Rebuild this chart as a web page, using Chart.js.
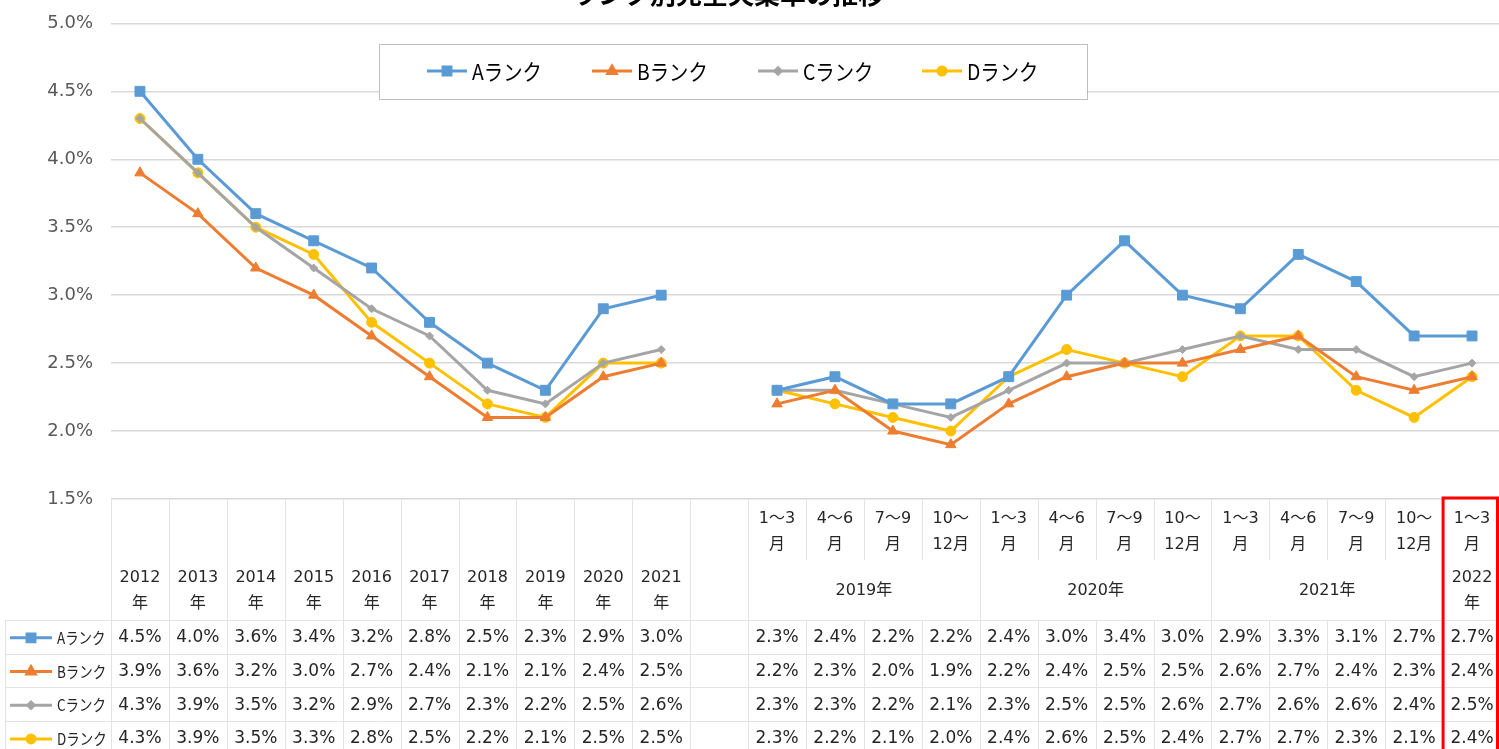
<!DOCTYPE html>
<html>
<head>
<meta charset="utf-8">
<script src="https://cdn.jsdelivr.net/npm/chart.js@4"></script>
<style>
  html, body { margin: 0; padding: 0; background: #ffffff; overflow: hidden; }
  #wrap { width: 1509px; height: 749px; }
</style>
</head>
<body>
<div id="wrap"><canvas id="myChart"></canvas></div>
<script>
// カテゴリ
const yearCats = ['2012年', '2013年', '2014年', '2015年', '2016年', '2017年', '2018年', '2019年', '2020年', '2021年'];
const quarterCats = ['1～3月', '4～6月', '7～9月', '10～12月', '1～3月', '4～6月', '7～9月', '10～12月', '1～3月', '4～6月', '7～9月', '10～12月', '1～3月'];
const quarterGroups = ['2019年', '2020年', '2021年', '2022年'];
const seriesNames = ['Aランク', 'Bランク', 'Cランク', 'Dランク'];

// 年次データ
const yearA = [4.5, 4.0, 3.6, 3.4, 3.2, 2.8, 2.5, 2.3, 2.9, 3.0];
const yearB = [3.9, 3.6, 3.2, 3.0, 2.7, 2.4, 2.1, 2.1, 2.4, 2.5];
const yearC = [4.3, 3.9, 3.5, 3.2, 2.9, 2.7, 2.3, 2.2, 2.5, 2.6];
const yearD = [4.3, 3.9, 3.5, 3.3, 2.8, 2.5, 2.2, 2.1, 2.5, 2.5];

// 四半期データ
const quarterA = [2.3, 2.4, 2.2, 2.2, 2.4, 3.0, 3.4, 3.0, 2.9, 3.3, 3.1, 2.7, 2.7];
const quarterB = [2.2, 2.3, 2.0, 1.9, 2.2, 2.4, 2.5, 2.5, 2.6, 2.7, 2.4, 2.3, 2.4];
const quarterC = [2.3, 2.3, 2.2, 2.1, 2.3, 2.5, 2.5, 2.6, 2.7, 2.6, 2.6, 2.4, 2.5];
const quarterD = [2.3, 2.2, 2.1, 2.0, 2.4, 2.6, 2.5, 2.4, 2.7, 2.7, 2.3, 2.1, 2.4];

const yTicks = [1.5, 2.0, 2.5, 3.0, 3.5, 4.0, 4.5, 5.0];

const titleText = 'ランク別完全失業率の推移';

// 四半期ラベルにグループ（年）を付ける
const quarterLabels = quarterCats.map((q, i) => quarterGroups[Math.floor(i / 4)] + ' ' + q);
const labels = [...yearCats, '', ...quarterLabels];

function joinData(y, q) {
    return [...y, null, ...q];
}

const colors = ['#5b9bd5', '#ed7d31', '#a5a5a5', '#ffc000'];
const pointStyles = ['rect', 'triangle', 'rectRot', 'circle'];
const pointRadii = [7, 6, 4, 5];
const allData = [joinData(yearA, quarterA), joinData(yearB, quarterB), joinData(yearC, quarterC), joinData(yearD, quarterD)];

const numFont = "'DejaVu Sans', 'Noto Sans CJK JP', sans-serif";
const jpFont = "'Noto Sans CJK JP', sans-serif";
const pageRight = 1499; // 表示されるウィンドウの右端

function drawMarker(ctx, i, x, y) {
    Chart.helpers.drawPoint(ctx, {
        pointStyle: pointStyles[i],
        radius: pointRadii[i] * 0.8,
        rotation: 0,
        borderWidth: 1
    }, x, y);
}

// 横に詰めた文字（Excelの凡例っぽく）
function condensedText(ctx, text, x, y, sx) {
    ctx.save();
    ctx.translate(x, y);
    ctx.scale(sx, 1);
    ctx.fillText(text, 0, 0);
    ctx.restore();
}

// タイトル（上が切れている）
const titlePlugin = {
    id: 'titlePlugin',
    afterDraw(chart) {
        const ctx = chart.ctx;
        ctx.save();
        ctx.font = "bold 26px " + jpFont;
        ctx.fillStyle = '#000000';
        ctx.textAlign = 'center';
        ctx.textBaseline = 'alphabetic';
        ctx.fillText(titleText, 728, 4);
        ctx.restore();
    }
};

// 凡例ボックス
const legendPlugin = {
    id: 'legendPlugin',
    afterDraw(chart) {
        const ctx = chart.ctx;
        ctx.save();
        ctx.fillStyle = '#ffffff';
        ctx.fillRect(379, 44, 708, 55);
        ctx.strokeStyle = '#7f7f7f';
        ctx.lineWidth = 1;
        ctx.setLineDash([1, 1]);
        ctx.strokeRect(379.5, 44.5, 708, 55);
        ctx.setLineDash([]);
        const starts = [427, 592, 758, 922];
        seriesNames.forEach((name, i) => {
            const x = starts[i];
            const y = 71;
            ctx.strokeStyle = colors[i];
            ctx.lineWidth = 3;
            ctx.beginPath();
            ctx.moveTo(x, y);
            ctx.lineTo(x + 40, y);
            ctx.stroke();
            ctx.fillStyle = colors[i];
            ctx.strokeStyle = colors[i];
            drawMarker(ctx, i, x + 20, y);
            ctx.fillStyle = '#000000';
            ctx.font = "22px " + jpFont;
            ctx.textAlign = 'left';
            ctx.textBaseline = 'middle';
            condensedText(ctx, name, x + 45, y + 1, 0.88);
        });
        ctx.restore();
    }
};

function wrapLabel(label) {
    if (label.startsWith('10～')) return ['10～', '12月'];
    return [label.slice(0, -1), label.slice(-1)];
}

// データテーブル
const tablePlugin = {
    id: 'tablePlugin',
    afterDraw(chart) {
        const ctx = chart.ctx;
        const xs = chart.scales.x;
        const top = chart.chartArea.bottom;
        const bottom = 749;
        const colW = xs.getPixelForValue(1) - xs.getPixelForValue(0);
        const rowTop = 620;
        const rowH = 33.7;
        const nCols = labels.length;
        const qStart = yearCats.length + 1;
        ctx.save();

        // 罫線
        ctx.strokeStyle = '#e3e3e3';
        ctx.lineWidth = 1;
        for (let i = 0; i <= nCols; i++) {
            const x = Math.round(xs.getPixelForValue(i) - colW / 2) + 0.5;
            const q = i - qStart;
            ctx.beginPath();
            if (q > 0 && q % 4 !== 0 && i < nCols) {
                ctx.moveTo(x, top);
                ctx.lineTo(x, 560);
                ctx.moveTo(x, rowTop);
                ctx.lineTo(x, bottom);
            } else {
                ctx.moveTo(x, top);
                ctx.lineTo(x, bottom);
            }
            ctx.stroke();
        }
        ctx.beginPath();
        ctx.moveTo(5.5, rowTop);
        ctx.lineTo(5.5, bottom);
        for (let r = 0; r < 4; r++) {
            const y = Math.round(rowTop + r * rowH) + 0.5;
            ctx.moveTo(5, y);
            ctx.lineTo(pageRight, y);
        }
        ctx.stroke();

        // 見出し
        ctx.fillStyle = '#262626';
        ctx.font = "16px " + numFont;
        ctx.textAlign = 'center';
        ctx.textBaseline = 'middle';
        yearCats.forEach((c, i) => {
            const x = xs.getPixelForValue(i);
            const lines = wrapLabel(c);
            ctx.fillText(lines[0], x, 578);
            ctx.fillText(lines[1], x, 604);
        });
        quarterCats.forEach((c, j) => {
            const x = xs.getPixelForValue(qStart + j);
            const lines = wrapLabel(c);
            ctx.fillText(lines[0], x, 519);
            ctx.fillText(lines[1], x, 545);
        });
        quarterGroups.forEach((g, k) => {
            const first = qStart + k * 4;
            const last = Math.min(first + 3, nCols - 1);
            if (first === last) {
                const lines = wrapLabel(g);
                const x = xs.getPixelForValue(first);
                ctx.fillText(lines[0], x, 578);
                ctx.fillText(lines[1], x, 604);
            } else {
                const x = (xs.getPixelForValue(first) + xs.getPixelForValue(last)) / 2;
                ctx.fillText(g, x, 591);
            }
        });

        // 系列の行
        allData.forEach((vals, r) => {
            const y = rowTop + r * rowH + rowH / 2 + 1;
            ctx.strokeStyle = colors[r];
            ctx.lineWidth = 3;
            ctx.beginPath();
            ctx.moveTo(10, y);
            ctx.lineTo(52, y);
            ctx.stroke();
            ctx.fillStyle = colors[r];
            ctx.strokeStyle = colors[r];
            drawMarker(ctx, r, 31, y);
            ctx.fillStyle = '#262626';
            ctx.font = "16px " + jpFont;
            ctx.textAlign = 'left';
            condensedText(ctx, seriesNames[r], 57, y, 0.84);
            ctx.font = "17px " + numFont;
            ctx.textAlign = 'center';
            vals.forEach((v, i) => {
                if (v === null) return;
                ctx.fillText(v.toFixed(1) + '%', xs.getPixelForValue(i), y);
            });
        });

        // 最新列の赤枠
        const lx = xs.getPixelForValue(nCols - 1) - colW / 2;
        ctx.strokeStyle = '#ff0000';
        ctx.lineWidth = 3;
        ctx.strokeRect(lx, top - 1, pageRight - lx - 1.5, bottom - top + 3);
        ctx.restore();
    }
};

const ctx1 = document.getElementById('myChart');

const grafico = new Chart(ctx1, {
    type: 'line',
    data: {
        labels: labels,
        datasets: seriesNames.map((name, i) => ({
            label: name,
            data: allData[i],
            borderColor: colors[i],
            backgroundColor: colors[i],
            borderWidth: 3,
            pointStyle: pointStyles[i],
            pointRadius: pointRadii[i],
            pointBorderWidth: 1,
            pointBorderColor: colors[i],
            pointBackgroundColor: colors[i],
            tension: 0,
            spanGaps: false
        }))
    },
    options: {
        responsive: true,
        maintainAspectRatio: false,
        animation: false,
        layout: {
            padding: { top: 22, bottom: 250, left: 0, right: 0 }
        },
        plugins: {
            legend: { display: false },
            title: { display: false },
            tooltip: { enabled: false }
        },
        scales: {
            x: {
                type: 'category',
                offset: true,
                display: false
            },
            y: {
                min: 1.5,
                max: 5.0,
                afterBuildTicks(scale) {
                    scale.ticks = yTicks.map(v => ({ value: v }));
                },
                afterFit(scale) {
                    scale.width = 111;
                },
                ticks: {
                    color: '#595959',
                    padding: 18,
                    font: { family: numFont, size: 18, lineHeight: 0.6 },
                    callback: v => v.toFixed(1) + '%'
                },
                grid: {
                    color: '#d9d9d9',
                    lineWidth: 1.5,
                    drawTicks: false
                },
                border: { display: false }
            }
        }
    },
    plugins: [titlePlugin, legendPlugin, tablePlugin]
});
</script>
</body>
</html>
